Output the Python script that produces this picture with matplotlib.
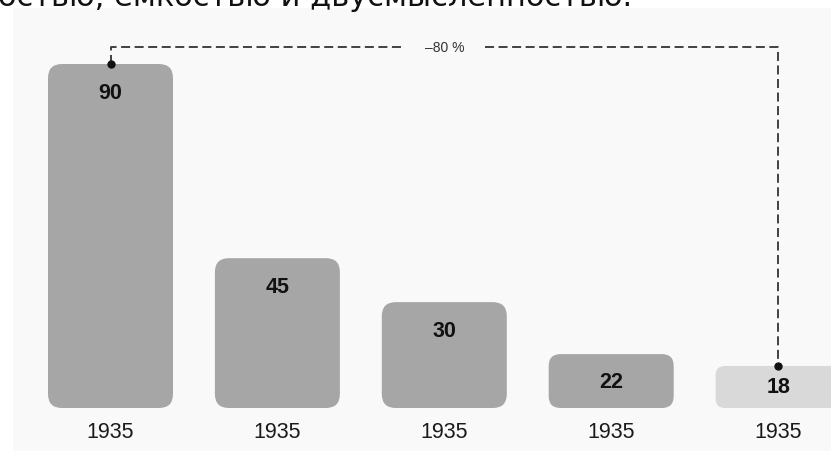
import matplotlib.pyplot as plt
from matplotlib.patches import FancyBboxPatch, Rectangle

# Данные
years = ['1935', '1935', '1935', '1935', '1935']
values = [90, 45, 30, 22, 18]
# высоты столбиков на картинке (не пропорциональны подписям)
bar_heights = [90, 39.2, 27.7, 14.1, 11.0]
bar_colors = ['#a6a6a6', '#a6a6a6', '#a6a6a6', '#a6a6a6', '#d9d9d9']
change_label = '\u201380 %'
header_text = 'остью, ёмкостью и двусмысленностью.'

W, H = 831, 452
fig = plt.figure(figsize=(W / 100, H / 100), dpi=100)
fig.patch.set_facecolor('white')

# Масштабы: пикселей на единицу
px_x = 166.9
px_y = 3.822
x0_px = 110.5   # центр первого столбика
base_px = 409   # линия основания

ax = fig.add_axes([0, 0, 1, 1])
ax.set_xlim(-x0_px / px_x, (W - x0_px) / px_x)
ax.set_ylim(-(H - base_px) / px_y, base_px / px_y)
ax.axis('off')

# Светлая подложка
ax.add_patch(Rectangle((13 / W, 0), 1, 1 - 9 / H, transform=ax.transAxes,
                       facecolor='#f9f9f9', edgecolor='none', zorder=0))

bar_w = 125 / px_x
aspect = px_x / px_y

for i, (h, v, c, yr) in enumerate(zip(bar_heights, values, bar_colors, years)):
    r_px = min(14, h * px_y * 0.22)
    p = FancyBboxPatch((i - bar_w / 2, 0), bar_w, h,
                       boxstyle='round,pad=0,rounding_size=%f' % (r_px / px_x),
                       mutation_aspect=aspect,
                       facecolor=c, edgecolor='none', zorder=2)
    ax.add_patch(p)
    off = min(28, h * px_y / 2) * 0.72
    ax.annotate(str(v), (i, h), xytext=(0, -off), textcoords='offset points',
                ha='center', va='center', fontsize=15.5, fontweight='bold',
                family='Liberation Sans', color='#111111', zorder=3)
    ax.annotate(yr, (i, 0), xytext=(0, -24 * 0.72), textcoords='offset points',
                ha='center', va='center', fontsize=15.5,
                family='Liberation Sans', color='#1a1a1a', zorder=3)

# Скобка с процентом
y_line = (base_px - 48) / px_y
i_last = len(values) - 1
mid = i_last / 2
gap = 41 / px_x
ls = dict(color='#333333', lw=1.3, linestyle=(0, (5, 2.5)), zorder=4)
ax.plot([0, 0, mid - gap], [bar_heights[0], y_line, y_line], **ls)
ax.plot([mid + gap, i_last, i_last], [y_line, y_line, bar_heights[-1]], **ls)
ax.plot([0, i_last], [bar_heights[0], bar_heights[-1]], 'o', color='#111111',
        markersize=5, zorder=5)
ax.text(mid, y_line, change_label, ha='center', va='center', fontsize=10,
        family='Liberation Sans', color='#333333', zorder=4)

# Обрезанная строка текста сверху
fig.text(-0.003, 1 - 6 / H, header_text, ha='left', va='baseline',
         fontsize=22, family='DejaVu Sans', color='#111111')

fig.savefig('out.png', dpi=100)
